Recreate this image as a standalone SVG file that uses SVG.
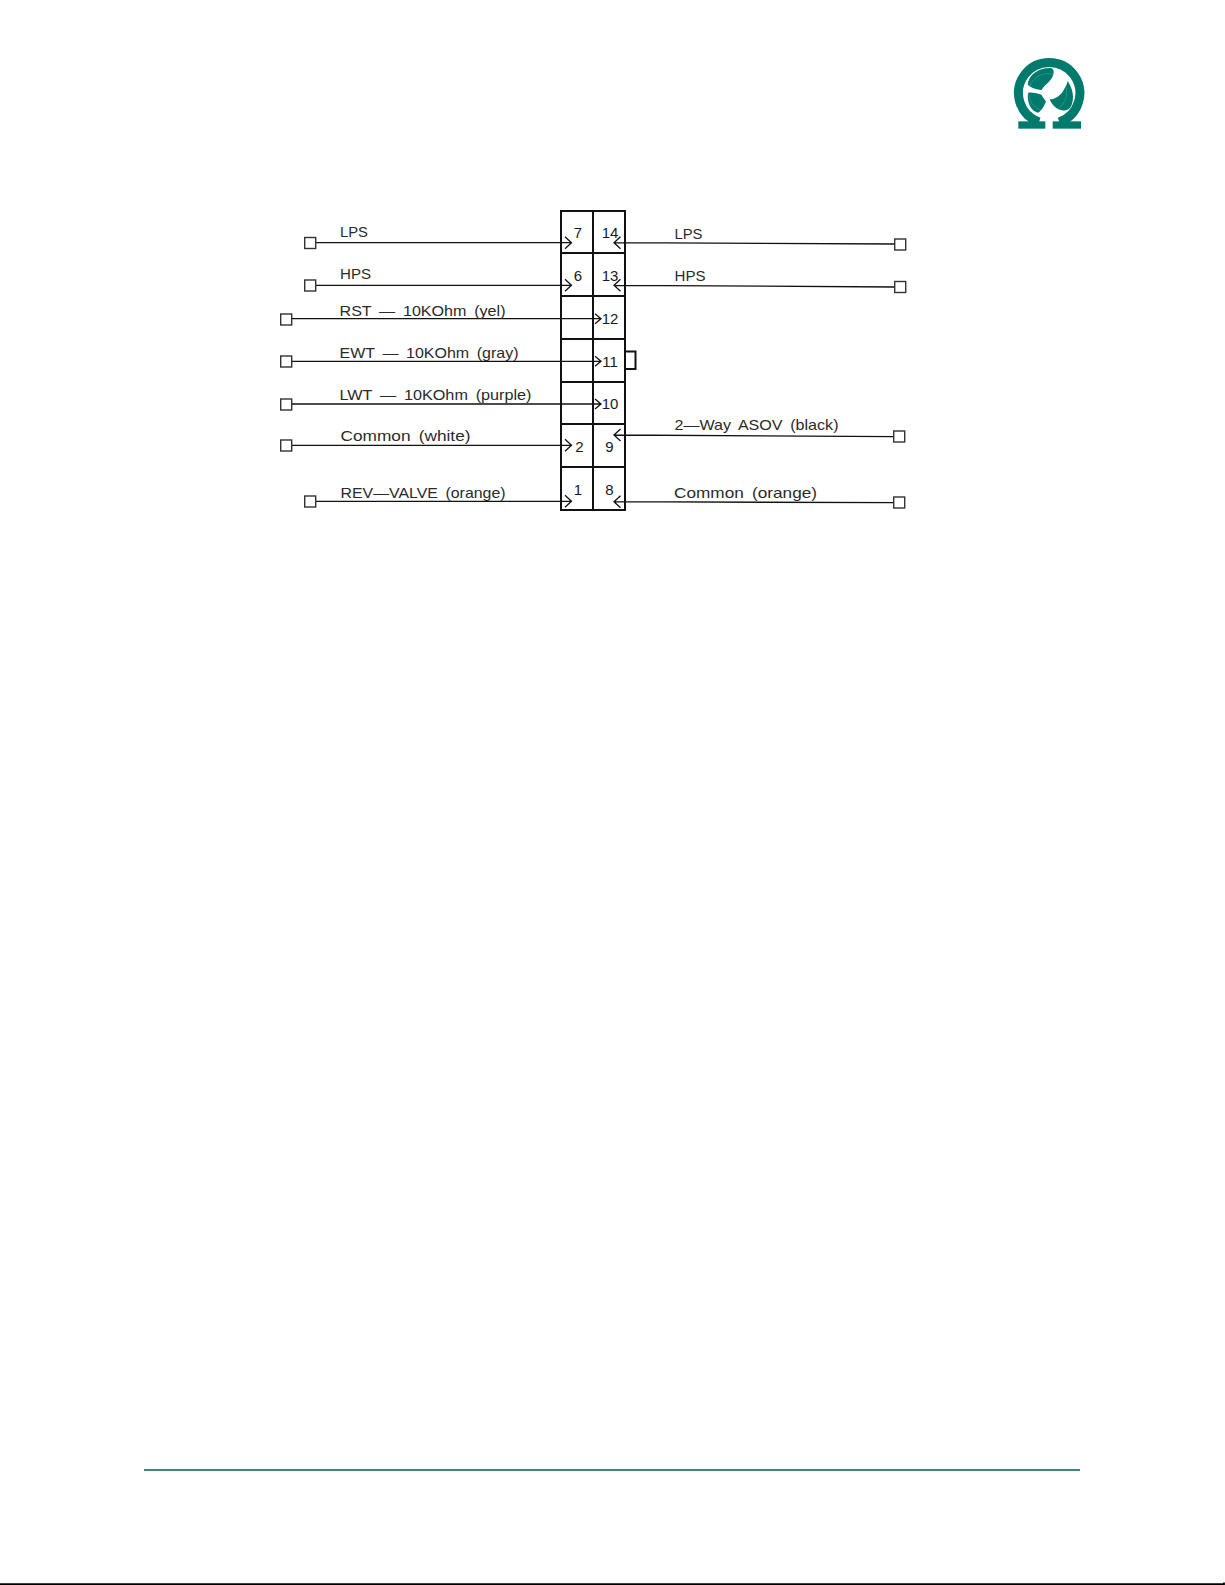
<svg xmlns="http://www.w3.org/2000/svg" width="1225" height="1585" viewBox="0 0 1225 1585">
<style>
.l{font-family:"Liberation Sans",Arial,sans-serif;font-size:15px;fill:#2a2a2a;word-spacing:3px}
.n{font-family:"Liberation Sans",Arial,sans-serif;font-size:15px;fill:#1a1a1a;text-anchor:middle}
.w{stroke:#111;stroke-width:1.3;fill:none}
.t{fill:#fff;stroke:#333;stroke-width:1.4}
.b{fill:none;stroke:#111;stroke-width:2}
</style>
<rect width="1225" height="1585" fill="#fff"/>
<g id="logo" transform="translate(1000 40) scale(.33333)" fill="#007a6c">
<path d="M117 246A92 92 0 1 1 178 246" fill="none" stroke="#007a6c" stroke-width="27"/>
<rect x="55" y="244" width="81" height="22"/><rect x="158" y="244" width="85" height="22"/>
<path d="M83 134C86 104 115 83 152 84C165 87 163 104 153 118C142 132 130 140 125 150C110 149 94 144 83 134Z"/>
<path d="M203 123C217 145 225 172 214 197C206 214 186 215 170 205C158 196 151 186 149 178C165 178 183 166 191 150C197 140 201 132 203 123Z"/>
<path d="M84 158C100 157 115 160 125 165C129 174 135 180 138 185C131 200 124 213 114 218C94 213 80 190 84 158Z"/>
<circle cx="143" cy="158" r="57" fill="none" stroke="#fff" stroke-opacity=".25" stroke-width="2"/>
</g>
<g id="connector-block">
<rect class="b" x="561" y="211" width="64" height="299"/>
<path class="b" d="M593 211V510M561 253H625M561 296H625M561 339H625M561 382H625M561 424H625M561 467H625"/>
<path class="b" d="M625 351.500H635.500V369H625"/>
<text class="n" x="578" y="238">7</text><text class="n" x="610" y="238">14</text>
<text class="n" x="578" y="281">6</text><text class="n" x="610" y="281">13</text>
<text class="n" x="610" y="324">12</text><text class="n" x="610" y="367">11</text><text class="n" x="610" y="409">10</text>
<text class="n" x="579.500" y="452">2</text><text class="n" x="609.500" y="452">9</text>
<text class="n" x="578" y="495">1</text><text class="n" x="609.500" y="495">8</text>
</g>
<g id="connectors">
<path class="w" d="M316 242.700H571.500M565 236.700L571.500 242.700L565 248.700"/>
<path class="w" d="M316 285.300H571.500M565 279.300L571.500 285.300L565 291.300"/>
<path class="w" d="M292 318.700H601M595 313.700L601 318.700L595 323.700"/>
<path class="w" d="M292 361.300H601M595 356.300L601 361.300L595 366.300"/>
<path class="w" d="M292 404H601M595 399L601 404L595 409"/>
<path class="w" d="M292 445.300H571.500M565 439.300L571.500 445.300L565 451.300"/>
<path class="w" d="M316 501.300H571.500M565 495.300L571.500 501.300L565 507.300"/>
<path class="w" d="M614 242.700L895 244M620.500 236.700L614 242.700L620.500 248.700"/>
<path class="w" d="M614 285.300L895 287M620.500 279.300L614 285.300L620.500 291.300"/>
<path class="w" d="M614 435L894 436.700M620.500 429L614 435L620.500 441"/>
<path class="w" d="M614 501.700L894 502.700M620.500 495.700L614 501.700L620.500 507.700"/>
</g>
<g id="terminals">
<rect class="t" x="304.700" y="237.500" width="11" height="11"/><rect class="t" x="304.700" y="280" width="11" height="11"/>
<rect class="t" x="280.700" y="314" width="11" height="11"/><rect class="t" x="280.700" y="356" width="11" height="11"/>
<rect class="t" x="280.700" y="399" width="11" height="11"/><rect class="t" x="280.700" y="440" width="11" height="11"/>
<rect class="t" x="304.700" y="496" width="11" height="11"/>
<rect class="t" x="894.700" y="239" width="11" height="11"/><rect class="t" x="894.700" y="281.500" width="11" height="11"/>
<rect class="t" x="893.700" y="431" width="11" height="11"/><rect class="t" x="893.700" y="497" width="11" height="11"/>
</g>
<g id="labels">
<text class="l" x="340" y="236.500" textLength="28" lengthAdjust="spacingAndGlyphs">LPS</text>
<text class="l" x="340" y="279" textLength="31" lengthAdjust="spacingAndGlyphs">HPS</text>
<text class="l" x="339.500" y="315.500" textLength="166" lengthAdjust="spacingAndGlyphs">RST — 10KOhm (yel)</text>
<text class="l" x="339.500" y="358" textLength="179" lengthAdjust="spacingAndGlyphs">EWT — 10KOhm (gray)</text>
<text class="l" x="339.500" y="399.500" textLength="192" lengthAdjust="spacingAndGlyphs">LWT — 10KOhm (purple)</text>
<text class="l" x="340.500" y="441" textLength="130" lengthAdjust="spacingAndGlyphs">Common (white)</text>
<text class="l" x="340.500" y="498" textLength="165" lengthAdjust="spacingAndGlyphs">REV—VALVE (orange)</text>
<text class="l" x="674.500" y="238.500" textLength="28" lengthAdjust="spacingAndGlyphs">LPS</text>
<text class="l" x="674.500" y="280.500" textLength="31" lengthAdjust="spacingAndGlyphs">HPS</text>
<text class="l" x="674.500" y="429.500" textLength="164" lengthAdjust="spacingAndGlyphs">2—Way ASOV (black)</text>
<text class="l" x="674" y="498" textLength="143" lengthAdjust="spacingAndGlyphs">Common (orange)</text>
</g>
<path id="footer-rule" d="M144 1470H1080" stroke="#3f8478" stroke-width="2.200" fill="none"/>
<path id="page-edge" d="M0 1584.200H1224V1582.500" stroke="#000" stroke-width="1.800" fill="none"/>
</svg>
